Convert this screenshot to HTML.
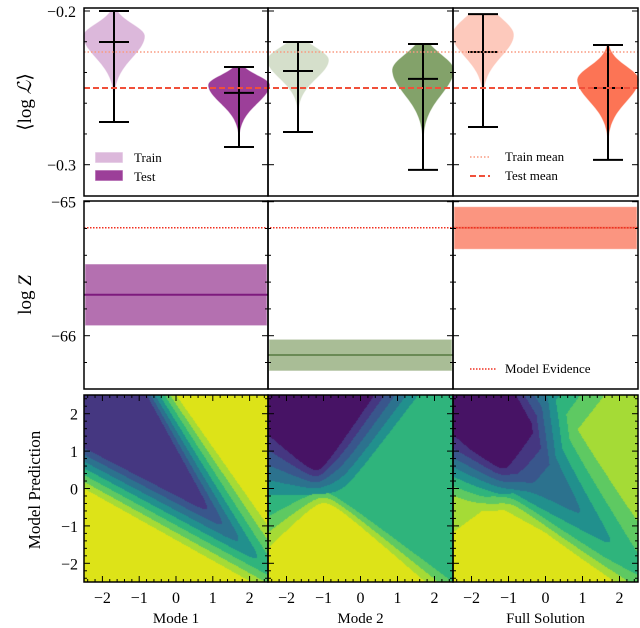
<!DOCTYPE html>
<html><head><meta charset="utf-8"><style>
body{margin:0;background:#fff;width:640px;height:628px;overflow:hidden;position:relative;font-family:"Liberation Serif",serif}
canvas{position:absolute}
svg{position:absolute;left:0;top:0}
</style></head><body>
<canvas id="c1" width="184" height="187" style="left:84px;top:395px"></canvas>
<canvas id="c2" width="185" height="187" style="left:268px;top:395px"></canvas>
<canvas id="c3" width="185" height="187" style="left:453px;top:395px"></canvas>
<svg id="s" width="640" height="628"></svg>
<script>
// ---- data: top violins ----
const panels=["Mode 1","Mode 2","Full Solution"];
const trainMax=[-0.2000,-0.2202,-0.2020];
const trainMean=[-0.2202,-0.2390,-0.2267];
const trainMin=[-0.2722,-0.2787,-0.2755];
const trainPeak=[-0.2163,-0.2319,-0.2156];
const trainSUp=[0.008,0.008,0.011];
const trainSDown=[0.014,0.012,0.014];
const testMax=[-0.2364,-0.2215,-0.2221];
const testMean=[-0.2533,-0.2442,-0.2501];
const testMin=[-0.2885,-0.3034,-0.2969];
const testPeak=[-0.2481,-0.2384,-0.2449];
const testSUp=[0.0064,0.010,0.009];
const testSDown=[0.012,0.016,0.014];
const trainMeanLine=-0.2267, testMeanLine=-0.2501;
// ---- data: evidence ----
const evCenter=[-65.694,-66.144,-65.194];
const evLow=[-65.925,-66.263,-65.355];
const evHigh=[-65.465,-66.027,-65.037];
const modelEvidence=-65.194;
const topTicks=[-0.2,-0.3];
const midTicks=[-65,-66];
const gridTicks=[-2,-1,0,1,2];

const trainCol=["#dcb8db","#d5dfcb","#fdc9bc"];
const testCol=["#9c3f99","#83a26a","#fc7455"];
const bandCol=["#b470b0","#a9bd96","#fb9580"];
const lineCol=["#7e1a7e","#6a8a55","#f0705a"];

const S=document.getElementById('s');const NS="http://www.w3.org/2000/svg";
function el(t,a,p){const e=document.createElementNS(NS,t);for(const k in a)e.setAttribute(k,a[k]);(p||S).appendChild(e);return e;}
const px0=[84,268,453],pw=[184,185,185];
const yTop=v=>11+(-0.2-v)*1537;
const yMid=v=>201.7+(-65-v)*134;
const yBot=v=>395+(2.5-v)/5*187;
const xBot=(i,v)=>px0[i]+(v+2.5)/5*pw[i];

const rows=[[8,196],[201,389],[395,582]];
for(let i=0;i<3;i++){
  const g=el('g',{});
  
  
  [[trainMax,trainMean,trainMin,trainPeak,trainSUp,trainSDown,trainCol,30,'train'],[testMax,testMean,testMin,testPeak,testSUp,testSDown,testCol,155,'test']].forEach(d=>{
    const [mx,mn,mi,pk,su,sd,col,off,nm]=d;const cx=px0[i]+off;
    let L=[],R=[];
    for(let k=0;k<=60;k++){const v=mx[i]+(mi[i]-mx[i])*k/60;const s=v>pk[i]?su[i]:sd[i];
      const w=31*Math.exp(-Math.pow(v-pk[i],2)/(2*s*s));const y=yTop(v);
      L.push((cx-w).toFixed(1)+','+y.toFixed(1));R.unshift((cx+w).toFixed(1)+','+y.toFixed(1));}
    const p=el('polygon',{points:L.concat(R).join(' '),fill:col[i],stroke:'#fff','stroke-opacity':0.6,'stroke-width':1},g);
    
    
    const w=el('path',{d:`M${cx},${yTop(mx[i])}V${yTop(mi[i])}M${cx-15},${yTop(mx[i])}h30M${cx-15},${yTop(mi[i])}h30M${cx-15},${yTop(mn[i])}h30`,stroke:'#000','stroke-width':2,fill:'none'},g);
    
    
  });
}
const tml=el('line',{x1:84,x2:638,y1:yTop(trainMeanLine),y2:yTop(trainMeanLine),stroke:'#f99a80','stroke-width':1.5,'stroke-dasharray':'1.5,2'});


const tsl=el('line',{x1:84,x2:638,y1:yTop(testMeanLine),y2:yTop(testMeanLine),stroke:'#f0503a','stroke-width':2,'stroke-dasharray':'6,3'});


for(let i=0;i<3;i++){
  const r=el('rect',{x:px0[i]+1,y:yMid(evHigh[i]),width:pw[i]-2,height:yMid(evLow[i])-yMid(evHigh[i]),fill:bandCol[i],stroke:'#fff','stroke-opacity':0.5});
  
  
  const c=el('line',{x1:px0[i],x2:px0[i]+pw[i],y1:yMid(evCenter[i]),y2:yMid(evCenter[i]),stroke:lineCol[i],'stroke-width':2});
  
  
}
const mel=el('line',{x1:84,x2:638,y1:yMid(modelEvidence),y2:yMid(modelEvidence),stroke:'#f03020','stroke-width':1.5,'stroke-dasharray':'1.5,1.5'});



function tk(x,y,dx,dy){el('line',{x1:x,y1:y,x2:x+dx,y2:y+dy,stroke:'#000','stroke-width':1});}
for(let i=0;i<3;i++){
  const xl=px0[i],xr=px0[i]+pw[i];
  for(let v=-0.2;v>=-0.32;v-=0.02){const y=yTop(v);const maj=Math.abs(v*10-Math.round(v*10))<1e-6;const l=maj?6:3;tk(xl,y,l,0);tk(xr,y,-l,0);}
  for(let v=-65;v>=-66.4;v-=0.2){const y=yMid(v);const maj=Math.abs(v-Math.round(v))<1e-6;const l=maj?6:3;tk(xl,y,l,0);tk(xr,y,-l,0);}
  for(let v=-2.4;v<=2.41;v+=0.2){const maj=Math.abs(v-Math.round(v))<1e-6;const l=maj?6:3;
    const x=xBot(i,v);tk(x,582,0,-l);tk(x,395,0,l);const y=yBot(v);tk(xl,y,l,0);tk(xr,y,-l,0);}
}
rows.forEach((r,ri)=>{for(let i=0;i<3;i++){const f=el('rect',{x:px0[i],y:r[0],width:pw[i],height:r[1]-r[0],fill:'none',stroke:'#000','stroke-width':1.5});
  
  }});

function txt(x,y,s,a){const t=el('text',Object.assign({x:x,y:y,'font-size':16,'font-family':'Liberation Serif, serif'},a||{}));t.textContent=s;return t;}
topTicks.forEach(v=>{const t=txt(76,yTop(v)+6,v.toFixed(1).replace('-','−'),{'text-anchor':'end'});});
midTicks.forEach(v=>{const t=txt(76,yMid(v)+6,String(v).replace('-','−'),{'text-anchor':'end'});});
gridTicks.forEach(v=>{const t=txt(78,yBot(v)+6,String(v).replace('-','−'),{'text-anchor':'end'});
  for(let i=0;i<3;i++){const u=txt(xBot(i,v),603,String(v).replace('-','−'),{'text-anchor':'middle'});}});
panels.forEach((p,i)=>{const t=txt(px0[i]+pw[i]/2,623,p,{'text-anchor':'middle','font-size':15});});
let t=txt(0,0,'',{'font-size':19,transform:'translate(31,102) rotate(-90)','text-anchor':'middle'});t.innerHTML='⟨log <tspan font-style="italic">ℒ</tspan>⟩';
t=txt(0,0,'',{'font-size':19,transform:'translate(31,295) rotate(-90)','text-anchor':'middle'});t.innerHTML='log <tspan font-style="italic">Z</tspan>';
t=txt(0,0,'Model Prediction',{'font-size':17,transform:'translate(40,490) rotate(-90)','text-anchor':'middle'});
let lg=el('g',{});
el('rect',{x:95,y:152,width:28,height:11,fill:trainCol[0],stroke:'#fff','stroke-opacity':.6},lg);
el('rect',{x:95,y:170,width:28,height:11,fill:testCol[0],stroke:'#fff','stroke-opacity':.6},lg);
txt(134,162,'Train',{'font-size':13});txt(134,181,'Test',{'font-size':13});
lg=el('g',{});
el('line',{x1:470,x2:490,y1:157,y2:157,stroke:'#f99a80','stroke-width':1.5,'stroke-dasharray':'1.5,2'},lg);
el('line',{x1:470,x2:490,y1:176,y2:176,stroke:'#f0503a','stroke-width':2,'stroke-dasharray':'6,3'},lg);
txt(505,161,'Train mean',{'font-size':13});txt(505,180,'Test mean',{'font-size':13});
lg=el('g',{});
el('line',{x1:470,x2:497,y1:369,y2:369,stroke:'#f03020','stroke-width':1.5,'stroke-dasharray':'1.5,1.5'},lg);
txt(505,373,'Model Evidence',{'font-size':13});

const pal=['#471365','#453781','#39568c','#2c728e','#21908d','#2fb47c','#5ec962','#a5db36','#dde318'];
function hyp(x,p){return p[1]+p[5]*p[2]*(Math.sqrt((x-p[0])**2+p[4]**2)-p[4])+p[3]*(x-p[0]);}
const D=[-1.15,0.5,1.15,0.3,0.2,1],T=[-0.5,0.0,0.65,0.65,0.3,1],G=[-1.0,-0.1,0.645,-0.095,0.3,-1],Y=[-1.0,-0.39,0.915,0.055,0.3,-1];
const cl=v=>Math.max(0,Math.min(8.99,v));
function f1(x,y){const ydL=-0.51*x-0.19,yyL=-0.55*x-1.375,ydU=-1.78*x+1.08,yyU=-1.4*x+2.5;
  const uL=(ydL-y)/(ydL-yyL),uU=(y-ydU)/(yyU-ydU);const k=10;
  const m=Math.max(uL,uU);const sm=m+Math.log(Math.exp(k*(uL-m))+Math.exp(k*(uU-m)))/k;
  return Math.max(1,cl(2+6*sm));}
function f2(x,y){const d=hyp(x,D),tt=hyp(x,T),g=hyp(x,G),yy=hyp(x,Y);
  if(y>=tt)return cl(5-4*(y-tt)/(d-tt));
  if(y>=g)return 5+(tt-y)/(tt-g);
  return cl(6+2*(g-y)/(g-yy));}
function f3(x,y){return (f1(x,y)+f2(x,y))/2;}
[[f1,'c1'],[f2,'c2'],[f3,'c3']].forEach(([f,id])=>{const c=document.getElementById(id),ctx=c.getContext('2d');
  const W=c.width,H=c.height;
  for(let j=0;j<H;j++)for(let i=0;i<W;i++){const x=-2.5+(i+0.5)/W*5,y=2.5-(j+0.5)/H*5;ctx.fillStyle=pal[Math.floor(f(x,y))];ctx.fillRect(i,j,1,1);}});
</script>
</body></html>
